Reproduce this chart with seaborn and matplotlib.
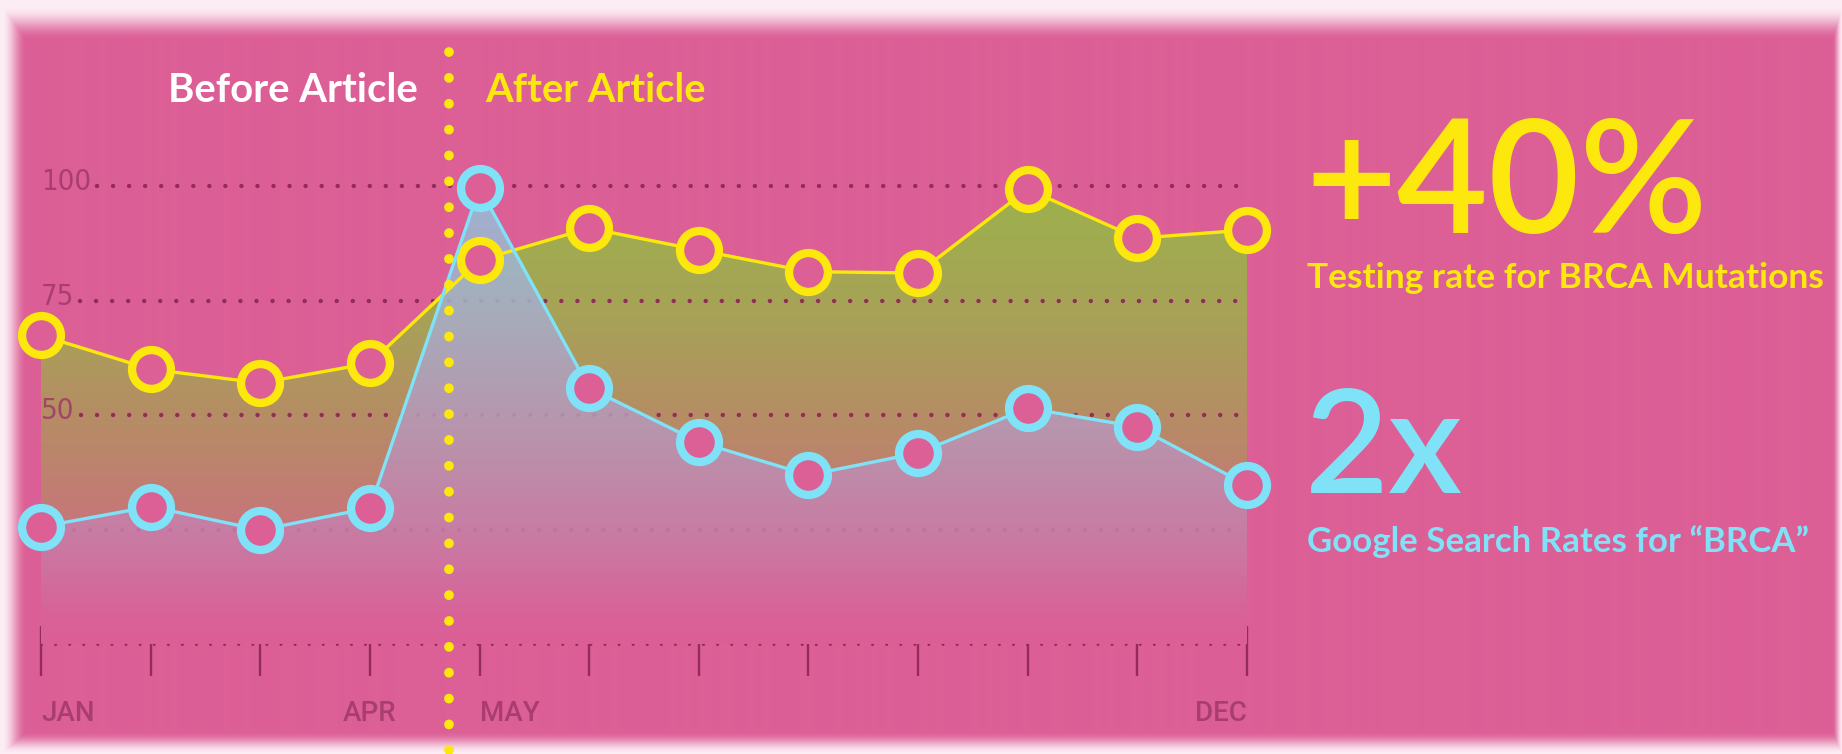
import numpy as np
import pandas as pd
import matplotlib
matplotlib.use("Agg")
import matplotlib.pyplot as plt
import seaborn as sns
from matplotlib.patches import PathPatch

# ---------------- data ----------------
months = ["JAN", "FEB", "MAR", "APR", "MAY", "JUN", "JUL", "AUG", "SEP", "OCT", "NOV", "DEC"]
testing_rate = [67.4, 60.0, 57.0, 61.3, 83.8, 90.8, 86.0, 81.3, 81.0, 99.3, 88.6, 90.4]
search_rate = [25.6, 30.0, 24.9, 29.7, 99.6, 55.9, 44.1, 36.9, 41.7, 51.5, 47.4, 34.7]
grid_values = [25, 50, 75, 100]
ytick_labels = ["", "50", "75", "100"]
shown_month_labels = ["JAN", "APR", "MAY", "DEC"]
article_position = 3.72          # article published between APR and MAY
before_label = "Before Article"
after_label = "After Article"
stat_testing = "+40%"
stat_testing_text = "Testing rate for BRCA Mutations"
stat_search = "2x"
stat_search_text = "Google Search Rates for \u201cBRCA\u201d"

# ---------------- style ----------------
W, H = 1842, 754
PINK = "#DC5F96"
YELLOW = "#FCE80C"
CYAN = "#7FE2F6"
MAROON = "#932B5B"
LABEL = "#A03869"

sns.set_theme(style="white")
plt.rcParams["font.family"] = ["Lato", "DejaVu Sans"]

fig = plt.figure(figsize=(W / 100, H / 100), dpi=100)

# background with soft white edges
bg = fig.add_axes([0, 0, 1, 1], zorder=-5)
yy, xx = np.mgrid[0:H, 0:W]
def ramp(d, width):
    t = np.clip(d / width, 0, 1)
    return t * t * (3 - 2 * t)
f = np.minimum.reduce([ramp(yy - 6, 34), ramp(xx - 2, 24), ramp(H - 1 - yy, 22), ramp(W - 1 - xx, 10)])
pink_rgb = np.array(matplotlib.colors.to_rgb(PINK))
img = (1 - f)[..., None] * np.array([0.99, 0.93, 0.96]) + f[..., None] * pink_rgb
bg.imshow(img, aspect="auto", extent=[0, 1, 0, 1], origin="upper")
bg.set_axis_off()

ax = fig.add_axes([0, 0, 1, 1])
ax.patch.set_alpha(0)

# axis scaling: JAN at x=41px, DEC at 1247px, 0 at y=644px, 100 at y=186px
px_x = (1247 - 41) / 11
px_y = (644 - 186) / 100
x0 = -41 / px_x
x1 = (W - 41) / px_x
y0 = -(H - 644) / px_y
y1 = 644 / px_y
ax.set_xlim(x0, x1)
ax.set_ylim(y0, y1)

df = pd.DataFrame({"idx": np.arange(len(months)), "month": months,
                   "testing": testing_rate, "search": search_rate})

def gradient_fill(values, stops, zorder, alpha=1.0):
    poly = ax.fill_between(df["idx"], 0, values, facecolor="none", edgecolor="none")
    path = poly.get_paths()[0]
    v = np.linspace(0, 105, 300)
    sv = [s[0] for s in stops]
    cols = np.array([s[1] for s in stops]) / 255.0
    rgb = np.stack([np.interp(v, sv, cols[:, k]) for k in range(3)], axis=-1)
    rgba = np.concatenate([rgb, np.full((len(v), 1), alpha)], axis=-1)
    im = ax.imshow(rgba[:, None, :], extent=[0, len(months) - 1, 0, 105], origin="lower",
                   aspect="auto", zorder=zorder, interpolation="bilinear")
    patch = PathPatch(path, transform=ax.transData, facecolor="none", edgecolor="none")
    im.set_clip_path(patch)

gradient_fill(df["testing"], [(0, (220, 95, 150)), (8, (217, 99, 147)), (30, (196, 122, 118)),
                              (50, (181, 141, 100)), (70, (168, 161, 88)), (100, (156, 178, 76))], zorder=1)

# y labels
ylabels = []
for val, lab in zip(grid_values, ytick_labels):
    t = ax.text(0, val - 0.9, lab, ha="left", va="baseline", fontsize=21, color=LABEL,
                family=["DejaVu Sans"], fontstretch="condensed", fontweight="light", zorder=2.5,
                alpha=0.85)
    ylabels.append(t)

ax.set_xlim(x0, x1)
ax.set_ylim(y0, y1)
fig.canvas.draw()
r = fig.canvas.get_renderer()
inv = ax.transData.inverted()
grid_end = len(months) - 1 - 0.07
for val, t in zip(grid_values, ylabels):
    if t.get_text():
        right_px = t.get_window_extent(r).x1 + 6
        start = inv.transform((right_px, 0))[0]
    else:
        start = 0.30
    gl = ax.hlines(val, start, grid_end, colors=MAROON, linewidth=3.2,
                   linestyles=(0, (0.01, 3.6)), zorder=2)
    gl.set_capstyle("round")

gradient_fill(df["search"], [(0, (220, 95, 150)), (8, (215, 101, 155)), (25, (199, 127, 170)),
                             (45, (186, 149, 182)), (70, (168, 172, 200)), (100, (150, 192, 216))],
              zorder=3, alpha=0.88)

# lines with ring markers
sns.lineplot(data=df, x="idx", y="testing", color=YELLOW, linewidth=2.4, marker="o",
             markersize=28, markeredgewidth=6, markerfacecolor=PINK, markeredgecolor=YELLOW,
             zorder=6, ax=ax)
sns.lineplot(data=df, x="idx", y="search", color=CYAN, linewidth=2.4, marker="o",
             markersize=28, markeredgewidth=6, markerfacecolor=PINK, markeredgecolor=CYAN,
             zorder=7, ax=ax)

# article divider: dotted, drawn from the top down so a dot sits at the top end
vl = ax.vlines(article_position, 1 - 52 / H, -0.02, transform=ax.get_xaxis_transform(),
               colors=YELLOW, linewidth=7.0, linestyles=(0, (0.01, 2.65)), zorder=8)
vl.set_capstyle("round")
vl.set_clip_on(False)

ax.set_xlim(x0, x1)
ax.set_ylim(y0, y1)
ax.set_xlabel("")
ax.set_ylabel("")
for s in ["top", "right", "left"]:
    ax.spines[s].set_visible(False)
sp = ax.spines["bottom"]
sp.set_position(("data", 0))
sp.set_bounds(0, len(months) - 1)
sp.set_color(MAROON)
sp.set_linewidth(2.2)
sp.set_linestyle((0, (0.01, 4.6)))
sp.set_capstyle("round")
sp.set_zorder(2)
ax.set_yticks([])
ax.xaxis.remove_overlapping_locs = False
ax.set_xticks(df["idx"])
ax.set_xticks(df["idx"], minor=True)
ax.set_xticklabels([m if m in shown_month_labels else "" for m in months])
ax.tick_params(axis="x", which="both", bottom=True)
ax.tick_params(axis="x", which="major", direction="out", length=23, width=1.7,
               color=MAROON, pad=17, labelsize=20, labelcolor=LABEL)
ax.tick_params(axis="x", which="minor", direction="in", length=13, width=1.7, color=MAROON)
align = {"JAN": "left", "APR": "center", "MAY": "left", "DEC": "right"}
for t in ax.get_xticklabels():
    t.set_family(["Roboto", "DejaVu Sans"])
    t.set_fontweight("medium")
    t.set_alpha(0.85)
    t.set_ha(align.get(t.get_text(), "center"))
ax.grid(False)

# texts
def fx(px):
    return px / W
def fy(py):
    return 1 - py / H

texts = []
texts.append((fig.text(fx(418), fy(90), before_label, ha="right", va="center", color="white",
                       fontweight="bold", fontsize=26), 250))
texts.append((fig.text(fx(485), fy(90), after_label, ha="left", va="center", color=YELLOW,
                       fontweight="bold", fontsize=26), 221))
texts.append((fig.text(fx(1305), fy(233), stat_testing, ha="left", va="baseline", color=YELLOW,
                       fontweight="semibold", fontsize=110), 402))
texts.append((fig.text(fx(1307), fy(288), stat_testing_text, ha="left", va="baseline", color=YELLOW,
                       fontweight="bold", fontsize=26), 516))
texts.append((fig.text(fx(1305), fy(493), stat_search, ha="left", va="baseline", color=CYAN,
                       fontweight="semibold", fontsize=110), 158))
texts.append((fig.text(fx(1307), fy(552), stat_search_text, ha="left", va="baseline", color=CYAN,
                       fontweight="bold", fontsize=26), 502))

fig.canvas.draw()
r = fig.canvas.get_renderer()
for t, target in texts:
    w = t.get_window_extent(r).width
    t.set_fontsize(t.get_fontsize() * target / w)

fig.savefig("out.png", dpi=100)
